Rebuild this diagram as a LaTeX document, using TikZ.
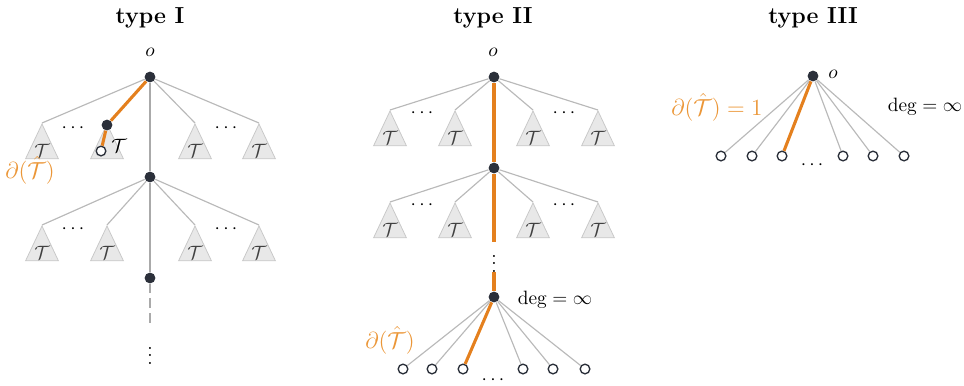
\documentclass[tikz,border=0pt]{standalone}
\usetikzlibrary{shapes.geometric}
\definecolor{nodedark}{RGB}{43,48,58}
\definecolor{edgegray}{RGB}{185,185,185}
\definecolor{spinegray}{RGB}{170,170,170}
\definecolor{trigray}{RGB}{200,200,200}
\definecolor{trifill}{RGB}{232,232,232}
\definecolor{hitorange}{RGB}{228,128,30}
\definecolor{labelorange}{RGB}{235,150,55}
\begin{document}
\begin{tikzpicture}[x=0.518pt,y=-0.518pt,
  dot/.style={circle,fill=nodedark,inner sep=0pt,minimum size=5.6pt},
  leaf/.style={circle,draw=nodedark,fill=white,line width=0.7pt,inner sep=0pt,minimum size=5pt},
  tri/.style={isosceles triangle,isosceles triangle stretches,shape border rotate=90,
    draw=trigray,fill=trifill,text=black!75,minimum width=17pt,minimum height=18pt,
    inner sep=0pt,anchor=apex},
  title/.style={font=\large\bfseries},
  orangelabel/.style={text=labelorange,font=\large},
  edge/.style={draw=edgegray,line width=0.6pt},
  spine/.style={draw=spinegray,line width=1.2pt},
  hit/.style={draw=hitorange,line width=1.6pt}]
\useasboundingbox (0,0) rectangle (964,385);

% type I
\node[title] (h1) at (150,18) {type I};
\node[dot] (o1) at (150,77) {};
\node (lo1) at (150,52) {$o$};
\node[tri] (t11) at (42,123) {$\mathcal{T}$};
\node[tri] (t12) at (107,123) {};
\node[tri] (t13) at (195,123) {$\mathcal{T}$};
\node[tri] (t14) at (259,123) {$\mathcal{T}$};
\node (tt12) at (119,146) {$\mathcal{T}$};
\node (d11) at (73,128) {$\cdots$};
\node (d12) at (226,128) {$\cdots$};
\node[dot] (x1) at (107,125) {};
\node[leaf] (l1) at (101,151) {};
\node[dot] (v1) at (150,177) {};
\node[tri] (t21) at (42,225) {$\mathcal{T}$};
\node[tri] (t22) at (107,225) {$\mathcal{T}$};
\node[tri] (t23) at (195,225) {$\mathcal{T}$};
\node[tri] (t24) at (259,225) {$\mathcal{T}$};
\node (d21) at (73,229) {$\cdots$};
\node (d22) at (226,229) {$\cdots$};
\node[dot] (w1) at (150,278) {};
\coordinate (e1) at (150,324);
\node (vd1) at (150,350) {$\vdots$};
\node[orangelabel] (b1) at (30,170) {$\partial(\hat{\mathcal{T}})$};

\path[edge] (o1) -- (t11.apex);
\path[edge] (o1) -- (t13.apex);
\path[edge] (o1) -- (t14.apex);
\path[spine] (o1) -- (v1);
\path[spine] (v1) -- (w1);
\path[spine,dash pattern=on 5pt off 2.6pt] (w1) -- (e1);
\path[edge] (v1) -- (t21.apex);
\path[edge] (v1) -- (t22.apex);
\path[edge] (v1) -- (t23.apex);
\path[edge] (v1) -- (t24.apex);
\path[hit] (o1) -- (x1);
\path[hit] (x1) -- (l1);

% type II
\node[title] (h2) at (493,18) {type II};
\node[dot] (o2) at (494,77) {};
\node (lo2) at (493,52) {$o$};
\node[tri] (s11) at (390,110) {$\mathcal{T}$};
\node[tri] (s12) at (455,110) {$\mathcal{T}$};
\node[tri] (s13) at (533,110) {$\mathcal{T}$};
\node[tri] (s14) at (598,110) {$\mathcal{T}$};
\node (c11) at (422,113) {$\cdots$};
\node (c12) at (564,113) {$\cdots$};
\node[dot] (v2) at (494,168) {};
\node[tri] (s21) at (390,202) {$\mathcal{T}$};
\node[tri] (s22) at (455,202) {$\mathcal{T}$};
\node[tri] (s23) at (533,202) {$\mathcal{T}$};
\node[tri] (s24) at (598,202) {$\mathcal{T}$};
\node (c21) at (422,205) {$\cdots$};
\node (c22) at (564,205) {$\cdots$};
\coordinate (e2) at (494,242);
\node (vd2) at (494,258) {$\vdots$};
\coordinate (f2) at (494,272);
\node[dot] (w2) at (494,297) {};
\node (deg2) at (555,300) {$\deg = \infty$};
\node[leaf] (q1) at (403,369) {};
\node[leaf] (q2) at (432,369) {};
\node[leaf] (q3) at (463,369) {};
\node[leaf] (q4) at (523,369) {};
\node[leaf] (q5) at (553,369) {};
\node[leaf] (q6) at (585,369) {};
\node (c3) at (493,380) {$\cdots$};
\node[orangelabel] (b2) at (390,340) {$\partial(\hat{\mathcal{T}})$};

\path[edge] (o2) -- (s11.apex);
\path[edge] (o2) -- (s12.apex);
\path[edge] (o2) -- (s13.apex);
\path[edge] (o2) -- (s14.apex);
\path[edge] (v2) -- (s21.apex);
\path[edge] (v2) -- (s22.apex);
\path[edge] (v2) -- (s23.apex);
\path[edge] (v2) -- (s24.apex);
\path[edge] (w2) -- (q1);
\path[edge] (w2) -- (q2);
\path[edge] (w2) -- (q4);
\path[edge] (w2) -- (q5);
\path[edge] (w2) -- (q6);
\path[hit] (o2) -- (v2);
\path[hit] (v2) -- (e2);
\path[hit] (f2) -- (w2);
\path[hit] (w2) -- (q3);

% type III
\node[title] (h3) at (813,18) {type III};
\node[dot] (o3) at (813,76) {};
\node (lo3) at (833,74) {$o$};
\node[leaf] (p1) at (721,156) {};
\node[leaf] (p2) at (752,156) {};
\node[leaf] (p3) at (782,156) {};
\node[leaf] (p4) at (843,156) {};
\node[leaf] (p5) at (873,156) {};
\node[leaf] (p6) at (904,156) {};
\node (c4) at (812,165) {$\cdots$};
\node (deg3) at (925,107) {$\deg = \infty$};
\node[orangelabel] (b3) at (717,107) {$\partial(\hat{\mathcal{T}}) = 1$};

\path[edge] (o3) -- (p1);
\path[edge] (o3) -- (p2);
\path[edge] (o3) -- (p4);
\path[edge] (o3) -- (p5);
\path[edge] (o3) -- (p6);
\path[hit] (o3) -- (p3);
\end{tikzpicture}
\end{document}
